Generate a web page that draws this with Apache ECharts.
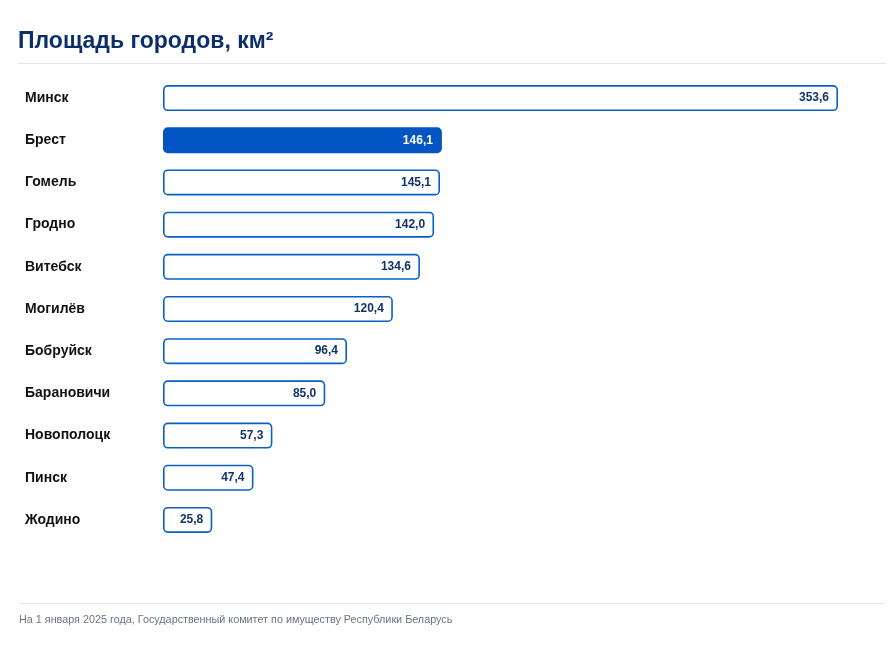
<!DOCTYPE html>
<html>
<head>
    <meta charset="utf-8">
    <title>Площадь городов</title>
    <script src="https://cdn.jsdelivr.net/npm/echarts@6/dist/echarts.min.js"></script>
    <style>
        html, body { margin: 0; padding: 0; background: #fff; }
        #main { width: 890px; height: 645px; }
    </style>
</head>
<body>
<div id="main"></div>
<script>
// данные
const cities = ['Минск', 'Брест', 'Гомель', 'Гродно', 'Витебск', 'Могилёв',
    'Бобруйск', 'Барановичи', 'Новополоцк', 'Пинск', 'Жодино'];
const areas = [353.6, 146.1, 145.1, 142.0, 134.6, 120.4, 96.4, 85.0, 57.3, 47.4, 25.8];
const highlightCity = 'Брест';

const chart = echarts.init(document.getElementById('main'));

const option = {
    backgroundColor: '#ffffff',
    animation: false,
    textStyle: { fontFamily: 'Arial, "Liberation Sans", sans-serif' },
    title: {
        text: 'Площадь городов, км²',
        left: 18,
        top: 30,
        padding: 0,
        textStyle: { fontSize: 23, fontWeight: 'bold', color: '#0c2f6b' }
    },
    graphic: [
        { type: 'line', shape: { x1: 18, y1: 63.5, x2: 886, y2: 63.5 },
          style: { stroke: '#e3e6ea', lineWidth: 1 } },
        { type: 'line', shape: { x1: 18, y1: 603.5, x2: 886, y2: 603.5 },
          style: { stroke: '#e3e6ea', lineWidth: 1 } },
        { type: 'text', left: 19, top: 615,
          style: { text: 'На 1 января 2025 года, Государственный комитет по имуществу Республики Беларусь',
                   fill: '#6b7480', fontSize: 10.8, fontFamily: 'Arial, "Liberation Sans", sans-serif' } }
    ],
    grid: { left: 163, top: 77, width: 675, height: 464, containLabel: false },
    xAxis: {
        type: 'value',
        min: 0,
        max: 353.6,
        show: false
    },
    yAxis: {
        type: 'category',
        inverse: true,
        data: cities,
        axisLine: { show: false },
        axisTick: { show: false },
        splitLine: { show: false },
        axisLabel: {
            align: 'left',
            margin: 138,
            fontSize: 14,
            fontWeight: 'bold',
            color: '#111111'
        }
    },
    series: [{
        type: 'bar',
        barWidth: 26,
        data: areas.map((v, i) => ({
            value: v,
            itemStyle: cities[i] === highlightCity
                ? { color: '#0455c4', borderColor: '#0455c4' }
                : { color: '#ffffff', borderColor: '#0a60c2' },
            label: { color: cities[i] === highlightCity ? '#ffffff' : '#11336b' }
        })),
        itemStyle: { borderWidth: 1.6, borderRadius: 4 },
        label: {
            show: true,
            position: 'insideRight',
            distance: 9,
            fontSize: 12,
            fontWeight: 'bold',
            formatter: p => p.value.toFixed(1).replace('.', ',')
        }
    }]
};

chart.setOption(option);
</script>
</body>
</html>
